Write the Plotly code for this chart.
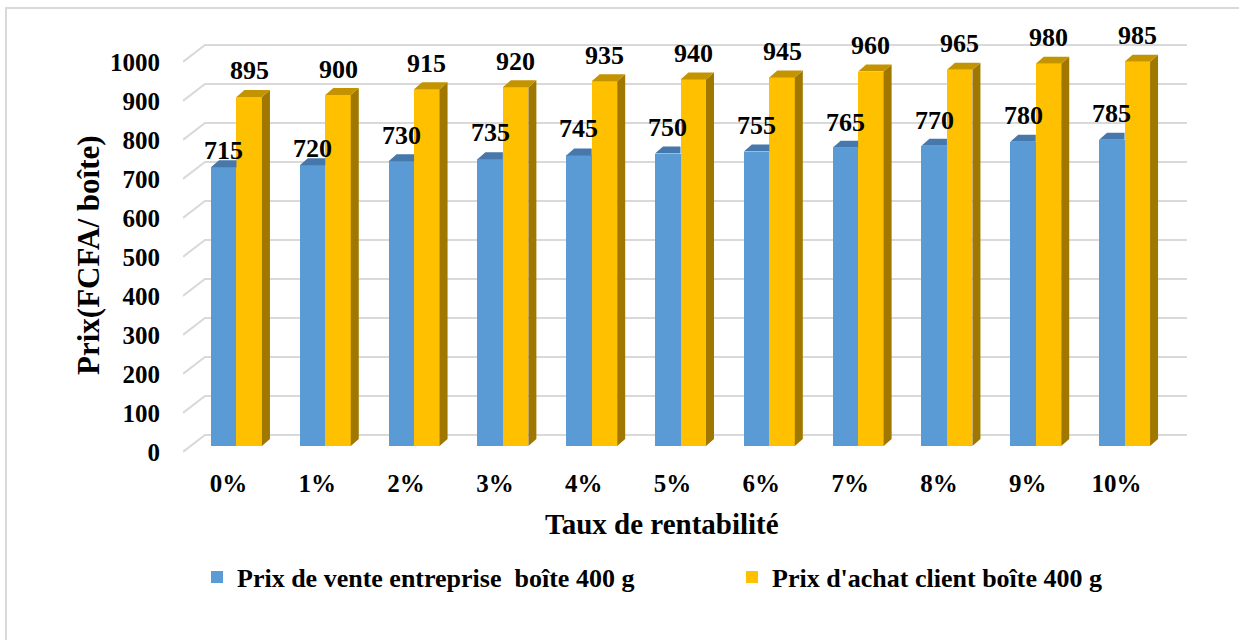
import plotly.graph_objects as go

# ---- data ----
categories = ["0%", "1%", "2%", "3%", "4%", "5%", "6%", "7%", "8%", "9%", "10%"]
prix_vente = [715, 720, 730, 735, 745, 750, 755, 765, 770, 780, 785]
prix_achat = [895, 900, 915, 920, 935, 940, 945, 960, 965, 980, 985]
series_names = ["Prix de vente entreprise  boîte 400 g", "Prix d'achat client boîte 400 g"]
y_ticks = [0, 100, 200, 300, 400, 500, 600, 700, 800, 900, 1000]

# ---- style ----
FONT = "Liberation Serif, Times New Roman, serif"
BLUE, BLUE_TOP = "#5B9BD5", "#4678AB"
ORANGE, ORANGE_TOP, ORANGE_SIDE = "#FFC000", "#C49300", "#A07800"
GRID = "#D9D9D9"
BAR_W = 0.287          # bar width in category units
DX, DY = 0.09, 18.0    # 3-D depth offset (x units, y units)
GRID_FRONT, GRID_BACK = -15.0, 28.0
X_MIN, X_MAX, X_BACK = -0.602, 10.703, -0.355
blue_label_shift = [17, 17, 26, 27, 27, 26, 26, 25, 25, 26, 26]
orange_label_shift = [26] * len(categories)

W, H = 1239, 640
ML, MR, MT, MB = 183, 52, 30, 185
PW, PH = W - ML - MR, H - MT - MB

def px_x(p):
    return (p - ML) / PW

def px_y(q):
    return (H - MB - q) / PH

idx = list(range(len(categories)))
fig = go.Figure()

# front faces
fig.add_trace(go.Bar(x=idx, y=prix_vente, width=BAR_W, offset=-BAR_W, name=series_names[0],
                     legend="legend", marker=dict(color=BLUE, line=dict(width=0))))
fig.add_trace(go.Bar(x=idx, y=prix_achat, width=BAR_W, offset=0, name=series_names[1],
                     legend="legend2", marker=dict(color=ORANGE, line=dict(width=0))))

# 3-D top / side faces
def poly_trace(xs, ys, color):
    return go.Scatter(x=xs, y=ys, mode="lines", fill="toself", fillcolor=color,
                      line=dict(width=0, color=color), showlegend=False, hoverinfo="skip")

bx, by = [], []
for i, v in zip(idx, prix_vente):
    x0, x1 = i - BAR_W, i
    bx += [x0, x1, x1, x0 + DX, x0, None]
    by += [v, v, v + DY, v + DY, v, None]
fig.add_trace(poly_trace(bx, by, BLUE_TOP))

sx, sy, tx, ty = [], [], [], []
for i, v in zip(idx, prix_achat):
    x0, x1 = i, i + BAR_W
    sx += [x1, x1 + DX, x1 + DX, x1, x1, None]
    sy += [0, DY, v + DY, v, 0, None]
    tx += [x0, x1, x1 + DX, x0 + DX, x0, None]
    ty += [v, v, v + DY, v + DY, v, None]
fig.add_trace(poly_trace(sx, sy, ORANGE_SIDE))
fig.add_trace(poly_trace(tx, ty, ORANGE_TOP))

# gridlines (front diagonal + back wall)
shapes = []
for t in y_ticks:
    shapes.append(dict(type="path", xref="x", yref="y", layer="below",
                       path=f"M {X_MIN},{t + GRID_FRONT} L {X_BACK},{t + GRID_BACK} L {X_MAX},{t + GRID_BACK}",
                       line=dict(color=GRID, width=2)))
# chart frame
shapes.append(dict(type="rect", xref="paper", yref="paper", layer="below",
                   x0=px_x(6), x1=px_x(1250), y0=px_y(660), y1=px_y(8),
                   line=dict(color=GRID, width=2), fillcolor="rgba(0,0,0,0)"))

annotations = []
for i, v, s in zip(idx, prix_vente, blue_label_shift):
    annotations.append(dict(x=i - BAR_W / 2, y=v, text=str(v), showarrow=False, yshift=s,
                            font=dict(family=FONT, size=26, color="black", weight="bold")))
for i, v, s in zip(idx, prix_achat, orange_label_shift):
    annotations.append(dict(x=i + BAR_W / 2, y=v, text=str(v), showarrow=False, yshift=s,
                            font=dict(family=FONT, size=26, color="black", weight="bold")))
# axis titles
annotations.append(dict(xref="paper", yref="paper", x=px_x(662), y=px_y(524),
                        xanchor="center", yanchor="middle", text="Taux de rentabilité",
                        showarrow=False, font=dict(family=FONT, size=29, color="black", weight="bold")))
annotations.append(dict(xref="paper", yref="paper", x=px_x(88), y=px_y(255),
                        xanchor="center", yanchor="middle", text="Prix(FCFA/ boîte)",
                        textangle=-90, showarrow=False,
                        font=dict(family=FONT, size=31, color="black", weight="bold")))

legend_font = dict(family=FONT, size=26, color="black", weight="bold")
fig.update_layout(
    width=W, height=H,
    margin=dict(l=ML, r=MR, t=MT, b=MB),
    paper_bgcolor="white", plot_bgcolor="white",
    barmode="overlay", bargap=0,
    shapes=shapes, annotations=annotations,
    showlegend=True,
    legend=dict(orientation="h", x=px_x(197), y=px_y(577), xanchor="left", yanchor="middle",
                font=legend_font, itemwidth=30, bgcolor="rgba(0,0,0,0)"),
    legend2=dict(orientation="h", x=px_x(732), y=px_y(577), xanchor="left", yanchor="middle",
                 font=legend_font, itemwidth=30, bgcolor="rgba(0,0,0,0)"),
    xaxis=dict(range=[X_MIN, X_MAX], tickvals=[i - 0.09 for i in idx], ticktext=categories,
               showgrid=False, zeroline=False, showline=False, ticks="",
               ticklabelstandoff=11,
               tickfont=dict(family=FONT, size=25, color="black", weight="bold")),
    yaxis=dict(range=[-23.08, 1066.67], tickvals=[t + GRID_FRONT for t in y_ticks],
               ticktext=[str(t) for t in y_ticks],
               showgrid=False, zeroline=False, showline=False, ticks="",
               ticklabelstandoff=22,
               tickfont=dict(family=FONT, size=25, color="black", weight="bold")),
)

fig.write_html("out.html", config={"displayModeBar": False},
               post_script="document.body.style.margin='0';document.body.style.overflow='hidden';")
